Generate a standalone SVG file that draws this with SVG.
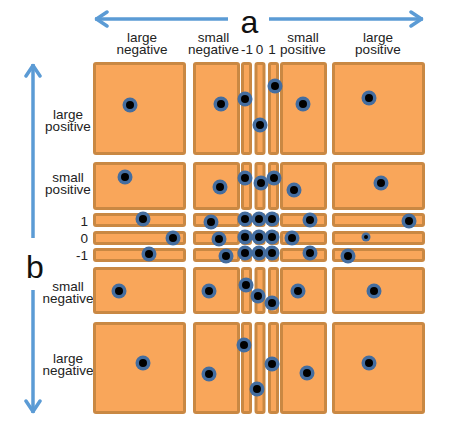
<svg xmlns="http://www.w3.org/2000/svg" xmlns:xlink="http://www.w3.org/1999/xlink" width="463" height="424" viewBox="0 0 463 424">
<style>
.cell{fill:#F9A65A;stroke:#C98843;stroke-width:3;}
.lbl{font-family:"Liberation Sans",Arial,sans-serif;font-size:13.5px;fill:#222;text-anchor:middle;}
.num{font-family:"Liberation Sans",Arial,sans-serif;font-size:13.5px;fill:#222;text-anchor:end;}
.big{font-family:"Liberation Sans",Arial,sans-serif;font-size:32px;fill:#111;text-anchor:middle;}
.arr{fill:none;stroke:#5B9BD5;stroke-width:3.5;marker-end:url(#ah);}
</style>
<defs>
<marker id="ah" viewBox="-14 -9 16 18" markerWidth="16" markerHeight="18" refX="0" refY="0" orient="auto" markerUnits="userSpaceOnUse">
<path d="M-12,-7 L-1.5,0 L-12,7" fill="none" stroke="#5B9BD5" stroke-width="3.5" stroke-linejoin="round" stroke-linecap="round"/>
</marker>
<g id="dot"><circle r="7.5" fill="#446D9F"/><circle r="4" fill="#000"/></g>
<g id="sdot"><circle r="4.5" fill="#446D9F"/><circle r="2" fill="#000"/></g>
</defs>
<rect width="463" height="424" fill="#fff"/>

<g id="connectors">
<path class="arr" d="M228,19 H95"/>
<path class="arr" d="M269,19 H423"/>
<path class="arr" d="M33,238 V64"/>
<path class="arr" d="M33,290 V413"/>
</g>

<g id="labels">
<text class="big" x="249.5" y="33">a</text>
<text class="big" x="35" y="278">b</text>
<text class="lbl" x="142" y="41.5">large</text><text class="lbl" x="142" y="53.5">negative</text>
<text class="lbl" x="213.5" y="41.5">small</text><text class="lbl" x="213.5" y="53.5">negative</text>
<text class="lbl" x="247" y="53.5">-1</text><text class="lbl" x="259.5" y="53.5">0</text><text class="lbl" x="272" y="53.5">1</text>
<text class="lbl" x="303" y="41.5">small</text><text class="lbl" x="303" y="53.5">positive</text>
<text class="lbl" x="378" y="41.5">large</text><text class="lbl" x="378" y="53.5">positive</text>
<text class="lbl" x="68" y="118.5">large</text><text class="lbl" x="68" y="130.5">positive</text>
<text class="lbl" x="68" y="181.5">small</text><text class="lbl" x="68" y="193.5">positive</text>
<text class="num" x="88" y="225.5">1</text>
<text class="num" x="88" y="242.5">0</text>
<text class="num" x="88" y="259.5">-1</text>
<text class="lbl" x="68" y="290.5">small</text><text class="lbl" x="68" y="302.5">negative</text>
<text class="lbl" x="68" y="362.5">large</text><text class="lbl" x="68" y="374.5">negative</text>
</g>

<g id="grid">
<g id="row-LP">
<rect id="c-LN-LP" class="cell" x="94.5" y="63.5" width="90" height="90" rx="1.5"/>
<rect id="c-SN-LP" class="cell" x="194.5" y="63.5" width="44" height="90" rx="1.5"/>
<rect id="c-m1-LP" class="cell" x="242.5" y="63.5" width="8" height="90" rx="1.5"/>
<rect id="c-z-LP" class="cell" x="256" y="63.5" width="8" height="90" rx="1.5"/>
<rect id="c-p1-LP" class="cell" x="269.5" y="63.5" width="8" height="90" rx="1.5"/>
<rect id="c-SP-LP" class="cell" x="281.5" y="63.5" width="44" height="90" rx="1.5"/>
<rect id="c-LP-LP" class="cell" x="333.5" y="63.5" width="90" height="90" rx="1.5"/>
</g>
<g id="row-SP">
<rect id="c-LN-SP" class="cell" x="94.5" y="163.5" width="90" height="45" rx="1.5"/>
<rect id="c-SN-SP" class="cell" x="194.5" y="163.5" width="44" height="45" rx="1.5"/>
<rect id="c-m1-SP" class="cell" x="242.5" y="163.5" width="8" height="45" rx="1.5"/>
<rect id="c-z-SP" class="cell" x="256" y="163.5" width="8" height="45" rx="1.5"/>
<rect id="c-p1-SP" class="cell" x="269.5" y="163.5" width="8" height="45" rx="1.5"/>
<rect id="c-SP-SP" class="cell" x="281.5" y="163.5" width="44" height="45" rx="1.5"/>
<rect id="c-LP-SP" class="cell" x="333.5" y="163.5" width="90" height="45" rx="1.5"/>
</g>
<g id="row-p1">
<rect id="c-LN-p1" class="cell" x="94.5" y="214.5" width="90" height="11" rx="1.5"/>
<rect id="c-SN-p1" class="cell" x="194.5" y="214.5" width="44" height="11" rx="1.5"/>
<rect id="c-m1-p1" class="cell" x="242.5" y="214.5" width="8" height="11" rx="1.5"/>
<rect id="c-z-p1" class="cell" x="256" y="214.5" width="8" height="11" rx="1.5"/>
<rect id="c-p1-p1" class="cell" x="269.5" y="214.5" width="8" height="11" rx="1.5"/>
<rect id="c-SP-p1" class="cell" x="281.5" y="214.5" width="44" height="11" rx="1.5"/>
<rect id="c-LP-p1" class="cell" x="333.5" y="214.5" width="90" height="11" rx="1.5"/>
</g>
<g id="row-z">
<rect id="c-LN-z" class="cell" x="94.5" y="232.5" width="90" height="11" rx="1.5"/>
<rect id="c-SN-z" class="cell" x="194.5" y="232.5" width="44" height="11" rx="1.5"/>
<rect id="c-m1-z" class="cell" x="242.5" y="232.5" width="8" height="11" rx="1.5"/>
<rect id="c-z-z" class="cell" x="256" y="232.5" width="8" height="11" rx="1.5"/>
<rect id="c-p1-z" class="cell" x="269.5" y="232.5" width="8" height="11" rx="1.5"/>
<rect id="c-SP-z" class="cell" x="281.5" y="232.5" width="44" height="11" rx="1.5"/>
<rect id="c-LP-z" class="cell" x="333.5" y="232.5" width="90" height="11" rx="1.5"/>
</g>
<g id="row-m1">
<rect id="c-LN-m1" class="cell" x="94.5" y="249.5" width="90" height="11" rx="1.5"/>
<rect id="c-SN-m1" class="cell" x="194.5" y="249.5" width="44" height="11" rx="1.5"/>
<rect id="c-m1-m1" class="cell" x="242.5" y="249.5" width="8" height="11" rx="1.5"/>
<rect id="c-z-m1" class="cell" x="256" y="249.5" width="8" height="11" rx="1.5"/>
<rect id="c-p1-m1" class="cell" x="269.5" y="249.5" width="8" height="11" rx="1.5"/>
<rect id="c-SP-m1" class="cell" x="281.5" y="249.5" width="44" height="11" rx="1.5"/>
<rect id="c-LP-m1" class="cell" x="333.5" y="249.5" width="90" height="11" rx="1.5"/>
</g>
<g id="row-SN">
<rect id="c-LN-SN" class="cell" x="94.5" y="268.5" width="90" height="44" rx="1.5"/>
<rect id="c-SN-SN" class="cell" x="194.5" y="268.5" width="44" height="44" rx="1.5"/>
<rect id="c-m1-SN" class="cell" x="242.5" y="268.5" width="8" height="44" rx="1.5"/>
<rect id="c-z-SN" class="cell" x="256" y="268.5" width="8" height="44" rx="1.5"/>
<rect id="c-p1-SN" class="cell" x="269.5" y="268.5" width="8" height="44" rx="1.5"/>
<rect id="c-SP-SN" class="cell" x="281.5" y="268.5" width="44" height="44" rx="1.5"/>
<rect id="c-LP-SN" class="cell" x="333.5" y="268.5" width="90" height="44" rx="1.5"/>
</g>
<g id="row-LN">
<rect id="c-LN-LN" class="cell" x="94.5" y="323.5" width="90" height="89" rx="1.5"/>
<rect id="c-SN-LN" class="cell" x="194.5" y="323.5" width="44" height="89" rx="1.5"/>
<rect id="c-m1-LN" class="cell" x="242.5" y="323.5" width="8" height="89" rx="1.5"/>
<rect id="c-z-LN" class="cell" x="256" y="323.5" width="8" height="89" rx="1.5"/>
<rect id="c-p1-LN" class="cell" x="269.5" y="323.5" width="8" height="89" rx="1.5"/>
<rect id="c-SP-LN" class="cell" x="281.5" y="323.5" width="44" height="89" rx="1.5"/>
<rect id="c-LP-LN" class="cell" x="333.5" y="323.5" width="90" height="89" rx="1.5"/>
</g>
</g>

<g id="points">
<g id="p-LP"><use href="#dot" x="130" y="105"/><use href="#dot" x="221" y="104"/><use href="#dot" x="245" y="99"/><use href="#dot" x="260" y="125"/><use href="#dot" x="275" y="86"/><use href="#dot" x="303" y="104"/><use href="#dot" x="369" y="98"/></g>
<g id="p-SP"><use href="#dot" x="125" y="177"/><use href="#dot" x="220" y="187"/><use href="#dot" x="245" y="178"/><use href="#dot" x="261" y="183"/><use href="#dot" x="274" y="178"/><use href="#dot" x="294" y="190"/><use href="#dot" x="381" y="183"/></g>
<g id="p-p1"><use href="#dot" x="143" y="219"/><use href="#dot" x="211" y="222"/><use href="#dot" x="245" y="219"/><use href="#dot" x="259" y="219"/><use href="#dot" x="272" y="219"/><use href="#dot" x="310" y="220"/><use href="#dot" x="409" y="221"/></g>
<g id="p-z"><use href="#dot" x="173" y="238"/><use href="#dot" x="219" y="239"/><use href="#dot" x="245" y="237"/><use href="#dot" x="259" y="237"/><use href="#dot" x="272" y="237"/><use href="#dot" x="292" y="238"/><use href="#sdot" x="366" y="237"/></g>
<g id="p-m1"><use href="#dot" x="149" y="254"/><use href="#dot" x="226" y="256"/><use href="#dot" x="245" y="253"/><use href="#dot" x="259" y="253"/><use href="#dot" x="272" y="253"/><use href="#dot" x="310" y="253"/><use href="#dot" x="348" y="256"/></g>
<g id="p-SN"><use href="#dot" x="119" y="291"/><use href="#dot" x="209" y="291"/><use href="#dot" x="246" y="285"/><use href="#dot" x="258" y="296"/><use href="#dot" x="272" y="303"/><use href="#dot" x="298" y="291"/><use href="#dot" x="374" y="291"/></g>
<g id="p-LN"><use href="#dot" x="143" y="363"/><use href="#dot" x="209" y="374"/><use href="#dot" x="244" y="345"/><use href="#dot" x="257" y="389"/><use href="#dot" x="272" y="364"/><use href="#dot" x="307" y="373"/><use href="#dot" x="369" y="363"/></g>
</g>
</svg>
